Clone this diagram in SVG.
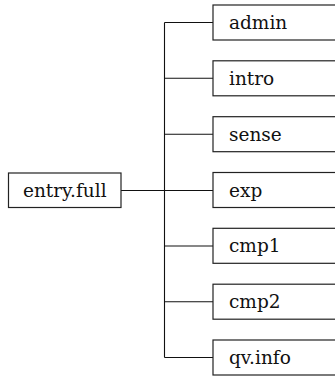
<svg xmlns="http://www.w3.org/2000/svg" width="335" height="376" viewBox="0 0 335 376">
<style>
rect{fill:#fff;stroke:#222;stroke-width:1.2}
text{font-family:"DejaVu Serif","Liberation Serif",serif;font-size:18.5px;fill:#111}
.c line{stroke:#111;stroke-width:1.1}
</style>
<rect x="0" y="0" width="335" height="376" style="stroke:none"/>
<g class="c" id="connectors">
<line x1="121" y1="190.5" x2="213" y2="190.5"/>
<line x1="164.5" y1="22.5" x2="164.5" y2="357.5"/>
<line x1="164.5" y1="22.5" x2="213" y2="22.5"/>
<line x1="164.5" y1="78.3" x2="213" y2="78.3"/>
<line x1="164.5" y1="134.2" x2="213" y2="134.2"/>
<line x1="164.5" y1="246" x2="213" y2="246"/>
<line x1="164.5" y1="301.8" x2="213" y2="301.8"/>
<line x1="164.5" y1="357.5" x2="213" y2="357.5"/>
</g>
<g id="entry"><rect x="8.5" y="173" width="112.5" height="34.5"/><text x="64.75" y="197" text-anchor="middle">entry.full</text></g>
<g id="admin"><rect x="213" y="5" width="130" height="35"/><text x="229" y="29">admin</text></g>
<g id="intro"><rect x="213" y="60.8" width="130" height="35"/><text x="229" y="84.8">intro</text></g>
<g id="sense"><rect x="213" y="116.7" width="130" height="35"/><text x="229" y="140.7">sense</text></g>
<g id="exp"><rect x="213" y="172.5" width="130" height="35"/><text x="229" y="196.5">exp</text></g>
<g id="cmp1"><rect x="213" y="228.3" width="130" height="35"/><text x="229" y="252.3">cmp1</text></g>
<g id="cmp2"><rect x="213" y="284.2" width="130" height="35"/><text x="229" y="308.2">cmp2</text></g>
<g id="qvinfo"><rect x="213" y="340" width="130" height="35"/><text x="229" y="364">qv.info</text></g>
</svg>
